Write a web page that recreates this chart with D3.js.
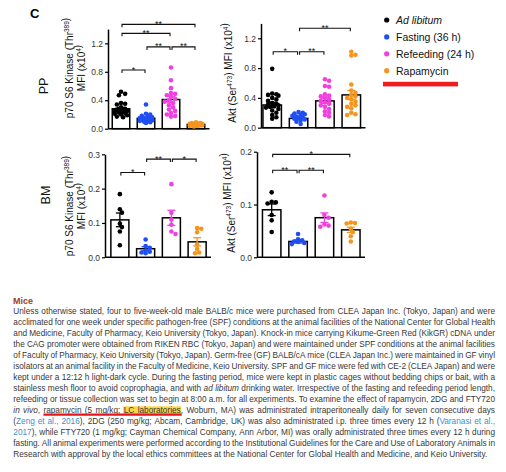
<!DOCTYPE html>
<html>
<head>
<meta charset="utf-8">
<script src="https://cdn.jsdelivr.net/npm/d3@7"></script>
<style>
body { margin: 0; background: #fff; }
svg { display: block; }
</style>
</head>
<body>
<script>
// -- groups --
var groups = ["Ad libitum", "Fasting (36 h)", "Refeeding (24 h)", "Rapamycin"];
var groupColors = ["#000000", "#1f4ef2", "#f240e0", "#f7941d"];

// -- PP, p70 S6 Kinase (Thr389) --
var ppS6Mean = [0.28, 0.145, 0.41, 0.06];
var ppS6Sem = [0.02, 0.015, 0.045, 0.004];
var ppS6Dots = [
    [0.52, 0.49, 0.47, 0.36, 0.35, 0.34, 0.30, 0.28, 0.27, 0.26, 0.25, 0.25, 0.24, 0.23, 0.22, 0.21, 0.20, 0.19, 0.17, 0.16],
    [0.34, 0.21, 0.20, 0.18, 0.17, 0.16, 0.15, 0.15, 0.14, 0.14, 0.13, 0.12, 0.12, 0.11, 0.10, 0.09, 0.08],
    [0.86, 0.68, 0.57, 0.50, 0.49, 0.47, 0.45, 0.42, 0.40, 0.38, 0.36, 0.33, 0.30, 0.27, 0.25, 0.22, 0.20, 0.18, 0.17],
    [0.09, 0.08, 0.08, 0.07, 0.07, 0.06, 0.06, 0.06, 0.05, 0.05, 0.05, 0.04, 0.04, 0.04, 0.03]
];
var ppS6Sig = [[0, 1, 0.825, "*"], [1, 2, 1.15, "**"], [2, 3, 1.15, "**"], [0, 2, 1.34, "**"], [0, 3, 1.467, "**"]];

// -- PP, Akt (Ser473) --
var ppAktMean = [0.305, 0.125, 0.36, 0.44];
var ppAktSem = [0.035, 0.012, 0.035, 0.06];
var ppAktDots = [
    [0.79, 0.46, 0.45, 0.44, 0.43, 0.40, 0.38, 0.36, 0.33, 0.32, 0.31, 0.30, 0.29, 0.28, 0.27, 0.25, 0.23, 0.20, 0.17, 0.14, 0.12],
    [0.21, 0.20, 0.19, 0.18, 0.17, 0.16, 0.15, 0.14, 0.13, 0.12, 0.11, 0.10, 0.08, 0.05],
    [0.65, 0.63, 0.56, 0.55, 0.45, 0.43, 0.42, 0.40, 0.38, 0.36, 0.34, 0.32, 0.30, 0.28, 0.25, 0.22, 0.20, 0.17, 0.15],
    [1.02, 0.98, 0.97, 0.58, 0.50, 0.47, 0.44, 0.42, 0.40, 0.38, 0.35, 0.32, 0.30, 0.28, 0.26, 0.20, 0.18, 0.17]
];
var ppAktSig = [[0, 1, 1.02, "*"], [1, 2, 1.02, "**"], [1, 3, 1.334, "**"]];

// -- BM, p70 S6 Kinase (Thr389) --
var bmS6Mean = [0.109, 0.025, 0.115, 0.045];
var bmS6Sem = [0.02, 0.006, 0.022, 0.012];
var bmS6Dots = [
    [0.184, 0.14, 0.13, 0.098, 0.088, 0.075, 0.035],
    [0.052, 0.033, 0.028, 0.02, 0.016, 0.014, 0.012],
    [0.213, 0.13, 0.11, 0.095, 0.075, 0.068],
    [0.085, 0.083, 0.073, 0.037, 0.024, 0.014, 0.012]
];
var bmS6Sig = [[0, 1, 0.247, "*"], [1, 2, 0.286, "**"], [2, 3, 0.286, "*"]];

// -- BM, Akt (Ser473) --
var bmAktMean = [0.09, 0.03, 0.075, 0.052];
var bmAktSem = [0.011, 0.003, 0.009, 0.005];
var bmAktDots = [
    [0.123, 0.105, 0.104, 0.102, 0.08, 0.07, 0.048],
    [0.044, 0.034, 0.032, 0.03, 0.029, 0.027, 0.025],
    [0.117, 0.08, 0.075, 0.062, 0.06, 0.058],
    [0.066, 0.065, 0.064, 0.054, 0.048, 0.04, 0.03]
];
var bmAktSig = [[0, 1, 0.165, "**"], [1, 2, 0.165, "**"], [0, 3, 0.195, "*"]];

var ticksPP = [0, 0.4, 0.8, 1.2];
var ticksBmS6 = [0, 0.1, 0.2, 0.3];
var ticksBmAkt = [0, 0.1, 0.2];

// -- Methods text (_italic_, {link}, [highlight], ~underline~) --
var bodyLines = [
    "Unless otherwise stated, four to five-week-old male BALB/c mice were purchased from CLEA Japan Inc. (Tokyo, Japan) and were",
    "acclimated for one week under specific pathogen-free (SPF) conditions at the animal facilities of the National Center for Global Health",
    "and Medicine, Faculty of Pharmacy, Keio University (Tokyo, Japan). Knock-in mice carrying Kikume-Green Red (KikGR) cDNA under",
    "the CAG promoter were obtained from RIKEN RBC (Tokyo, Japan) and were maintained under SPF conditions at the animal facilities",
    "of Faculty of Pharmacy, Keio University (Tokyo, Japan). Germ-free (GF) BALB/cA mice (CLEA Japan Inc.) were maintained in GF vinyl",
    "isolators at an animal facility in the Faculty of Medicine, Keio University. SPF and GF mice were fed with CE-2 (CLEA Japan) and were",
    "kept under a 12:12 h light-dark cycle. During the fasting period, mice were kept in plastic cages without bedding chips or bait, with a",
    "stainless mesh floor to avoid coprophagia, and with _ad libitum_ drinking water. Irrespective of the fasting and refeeding period length,",
    "refeeding or tissue collection was set to begin at 8:00 a.m. for all experiments. To examine the effect of rapamycin, 2DG and FTY720",
    "_in vivo_, ~rapamycin (5 mg/kg; [LC laboratories]~, Woburn, MA) was administrated intraperitoneally daily for seven consecutive days",
    "({Zeng et al., 2016}), 2DG (250 mg/kg; Abcam, Cambridge, UK) was also administrated i.p. three times every 12 h ({Varanasi et al.,}",
    "{2017}), while FTY720 (1 mg/kg; Cayman Chemical Company, Ann Arbor, MI) was orally administrated three times every 12 h during",
    "fasting. All animal experiments were performed according to the Institutional Guidelines for the Care and Use of Laboratory Animals in",
    "Research with approval by the local ethics committees at the National Center for Global Health and Medicine, and Keio University."
];

var FONT = "'Liberation Sans', Arial, Helvetica, sans-serif";
var width = 506, height = 472;

var svg = d3.select("body").append("svg")
    .attr("width", width)
    .attr("height", height)
    .style("font-family", FONT);

// panel label
svg.append("text").attr("x", 30).attr("y", 18)
    .attr("font-size", 13).attr("font-weight", "bold").text("C");

// row labels
[["PP", 47.5, 86], ["BM", 50, 195]].forEach(function(r) {
    svg.append("text")
        .attr("transform", "translate(" + r[1] + "," + r[2] + ") rotate(-90)")
        .attr("text-anchor", "middle").attr("font-size", 12.5).attr("fill", "#111")
        .text(r[0]);
});

// -- axis titles with superscripts --
function rotTitle(x, y, parts) {
    var t = svg.append("text")
        .attr("transform", "translate(" + x + "," + y + ") rotate(-90)")
        .attr("text-anchor", "middle").attr("font-size", 10).attr("fill", "#111");
    parts.forEach(function(p) {
        if (p.sup) {
            t.append("tspan").attr("dy", -4).attr("font-size", 6.5).text(p.sup);
            t.append("tspan").attr("dy", 4).text("");
        } else {
            t.append("tspan").text(p.t);
        }
    });
}
function s6Title(x, y) {
    rotTitle(x, y, [{t: "p70 S6 Kinase (Thr"}, {sup: "389"}, {t: ")"}]);
    rotTitle(x + 12, y, [{t: "MFI (x10"}, {sup: "4"}, {t: ")"}]);
}
function aktTitle(x, y) {
    rotTitle(x, y, [{t: "Akt (Ser"}, {sup: "473"}, {t: ") MFI (x10"}, {sup: "4"}, {t: ")"}]);
}
s6Title(73, 68);
s6Title(73, 206);
aktTitle(236, 73);
aktTitle(235, 203);

// -- simple beeswarm so points do not sit on each other --
function swarm(vals, y, r, maxOff) {
    var placed = [];
    var pts = vals.map(function(v) { return {v: v, py: y(v)}; })
        .sort(function(a, b) { return a.py - b.py; });
    pts.forEach(function(p) {
        var best = 0, bestOv = Infinity;
        for (var k = 0; k <= 14 && bestOv > 0; k++) {
            var cands = k === 0 ? [0] : [k, -k];
            for (var c = 0; c < cands.length; c++) {
                var off = cands[c] * r * 0.9;
                if (Math.abs(off) > maxOff) continue;
                var ov = 0;
                placed.forEach(function(q) {
                    var d = Math.hypot(q.dx - off, q.py - p.py);
                    ov = Math.max(ov, 2 * r * 0.8 - d);
                });
                if (ov < bestOv) { bestOv = ov; best = off; }
                if (ov <= 0) break;
            }
        }
        p.dx = best;
        placed.push(p);
    });
    return placed;
}

function drawPanel(p) {
    var g = svg.append("g");
    var x = d3.scaleBand().domain(d3.range(groups.length))
        .range(p.band).paddingInner(0.3).paddingOuter(0.15);
    var y = d3.scaleLinear().domain([0, p.max]).range(p.yr);
    var bw = x.bandwidth();

    var ax = g.append("g")
        .attr("transform", "translate(" + p.ax + ",0)")
        .call(d3.axisLeft(y).tickValues(p.ticks).tickSize(3).tickSizeOuter(0)
            .tickPadding(2).tickFormat(d3.format(".1f")));
    ax.select(".domain").attr("stroke", "#000").attr("stroke-width", 1.5);
    ax.selectAll(".tick line").attr("stroke", "#000").attr("stroke-width", 1.2);
    ax.selectAll(".tick text").attr("font-size", 8.5).attr("fill", "#333")
        .attr("font-family", FONT);

    g.append("line")
        .attr("x1", p.ax).attr("x2", p.band[1] + 1)
        .attr("y1", y(0)).attr("y2", y(0))
        .attr("stroke", "#000").attr("stroke-width", 1.5);

    // bars
    g.selectAll("rect.bar").data(p.mean).enter().append("rect")
        .attr("x", function(d, i) { return x(i); })
        .attr("y", function(d) { return y(d); })
        .attr("width", bw)
        .attr("height", function(d) { return y(0) - y(d); })
        .attr("fill", "#fff").attr("stroke", "#000").attr("stroke-width", 1.5);

    // dots
    p.dots.forEach(function(vals, i) {
        var cx = x(i) + bw / 2;
        var pts = swarm(vals, y, 2.3, bw / 2 - 2);
        g.selectAll(null).data(pts).enter().append("circle")
            .attr("cx", function(d) { return cx + d.dx; })
            .attr("cy", function(d) { return d.py; })
            .attr("r", 2.3)
            .attr("fill", groupColors[i]);
    });

    // mean +/- sem
    p.mean.forEach(function(m, i) {
        var cx = x(i) + bw / 2, s = p.sem[i];
        var eg = g.append("g").attr("stroke", groupColors[i]).attr("stroke-width", 1.3);
        eg.append("line").attr("x1", cx).attr("x2", cx).attr("y1", y(m - s)).attr("y2", y(m + s));
        eg.append("line").attr("x1", cx - 4).attr("x2", cx + 4).attr("y1", y(m + s)).attr("y2", y(m + s));
        eg.append("line").attr("x1", cx - 4).attr("x2", cx + 4).attr("y1", y(m - s)).attr("y2", y(m - s));
    });

    // significance brackets
    p.sig.forEach(function(s) {
        var x1 = x(s[0]) + bw / 2 + 1, x2 = x(s[1]) + bw / 2 - 1, yy = y(s[2]);
        g.append("path")
            .attr("d", "M" + x1 + "," + (yy + 3) + "V" + yy + "H" + x2 + "V" + (yy + 3))
            .attr("fill", "none").attr("stroke", "#111").attr("stroke-width", 1.1);
        g.append("text")
            .attr("x", (x1 + x2) / 2).attr("y", yy + 2.5)
            .attr("text-anchor", "middle").attr("font-size", 9).attr("fill", "#111")
            .text(s[3]);
    });
}

drawPanel({mean: ppS6Mean, sem: ppS6Sem, dots: ppS6Dots, sig: ppS6Sig, ticks: ticksPP,
    max: 1.4, ax: 108, band: [108.5, 208.5], yr: [128.7, 29.1]});
drawPanel({mean: ppAktMean, sem: ppAktSem, dots: ppAktDots, sig: ppAktSig, ticks: ticksPP,
    max: 1.4, ax: 261, band: [259, 364.5], yr: [127.7, 23.4]});
drawPanel({mean: bmS6Mean, sem: bmS6Sem, dots: bmS6Dots, sig: bmS6Sig, ticks: ticksBmS6,
    max: 0.3, ax: 105, band: [107, 210], yr: [257.3, 154.3]});
drawPanel({mean: bmAktMean, sem: bmAktSem, dots: bmAktDots, sig: bmAktSig, ticks: ticksBmAkt,
    max: 0.2, ax: 257, band: [258.5, 364], yr: [257.3, 151.7]});

// -- legend --
var legend = svg.append("g");
groups.forEach(function(name, i) {
    var yy = 20 + i * 16.9;
    legend.append("circle").attr("cx", 386.7).attr("cy", yy).attr("r", 2.6)
        .attr("fill", groupColors[i]);
    legend.append("text").attr("x", 396).attr("y", yy + 3.8)
        .attr("font-size", 10.5).attr("fill", "#111")
        .attr("font-style", i === 0 ? "italic" : null)
        .text(name);
});
legend.append("rect").attr("x", 383).attr("y", 81.8).attr("width", 75).attr("height", 4.6)
    .attr("fill", "#f01c1c");

// -- methods text --
svg.append("text").attr("x", 13).attr("y", 303.5)
    .attr("font-size", 9).attr("font-weight", "bold").attr("fill", "#a23b1f")
    .text("Mice");

var meas = svg.append("text").attr("x", -1000).attr("y", -1000).style("white-space", "pre");
function textWidth(str, fs, italic) {
    meas.attr("font-size", fs).attr("font-style", italic ? "italic" : "normal").text(str);
    return meas.node().getComputedTextLength();
}

function parseLine(str) {
    var words = [], cur = [], seg = null;
    var st = {i: false, l: false, h: false, u: false};
    for (var k = 0; k < str.length; k++) {
        var c = str[k];
        if (c === "_") { st.i = !st.i; seg = null; }
        else if (c === "{") { st.l = true; seg = null; }
        else if (c === "}") { st.l = false; seg = null; }
        else if (c === "[") { st.h = true; seg = null; }
        else if (c === "]") { st.h = false; seg = null; }
        else if (c === "~") { st.u = !st.u; seg = null; }
        else if (c === " ") { if (cur.length) words.push(cur); cur = []; seg = null; }
        else {
            if (!seg) {
                seg = {t: "", i: st.i, l: st.l, h: st.h, u: st.u};
                cur.push(seg);
            }
            seg.t += c;
        }
    }
    if (cur.length) words.push(cur);
    return words;
}

var textLeft = 13.3, textRight = 495, lastWidth = 475, minGap = 1.2;
var parsed = bodyLines.map(parseLine);
var plain = parsed.map(function(ws) {
    return ws.map(function(w) { return w.map(function(s) { return s.t; }).join(""); }).join(" ");
});
// font size from the last (ragged) line
var fs = 10 * lastWidth / textWidth(plain[plain.length - 1], 10, false);

var hlLayer = svg.append("g");
var txLayer = svg.append("g").attr("font-size", fs);
var ulLayer = svg.append("g");
var spaceW = textWidth("a a", fs) - textWidth("aa", fs);

parsed.forEach(function(words, li) {
    var base = 313.8 + li * 11.03;
    words.forEach(function(w) {
        w.forEach(function(s) { s.w = textWidth(s.t, fs, s.i); });
        w.w = d3.sum(w, function(s) { return s.w; });
    });
    var total = d3.sum(words, function(w) { return w.w; });
    var last = li === parsed.length - 1;
    // squeeze glyphs slightly on lines that would not fit with tight spaces
    var avail = textRight - textLeft - (words.length - 1) * minGap;
    var k = last ? 1 : Math.min(1, avail / total);
    var gap = last ? spaceW : (textRight - textLeft - total * k) / (words.length - 1);
    var xx = textLeft, segs = [];
    words.forEach(function(w) {
        var sx = xx;
        w.forEach(function(s) {
            var t = txLayer.append("text").attr("x", sx).attr("y", base)
                .attr("fill", s.l ? "#3b8fd0" : "#383838")
                .attr("font-style", s.i ? "italic" : null)
                .text(s.t);
            if (k < 1) t.attr("textLength", s.w * k).attr("lengthAdjust", "spacingAndGlyphs");
            segs.push({x0: sx, x1: sx + s.w * k, h: s.h, u: s.u});
            sx += s.w * k;
        });
        xx += w.w * k + gap;
    });
    // merge runs of flagged segments
    ["h", "u"].forEach(function(f) {
        var run = null;
        segs.concat([{}]).forEach(function(s) {
            if (s[f]) {
                if (!run) run = {x0: s.x0, x1: s.x1};
                else run.x1 = s.x1;
            } else if (run) {
                if (f === "h") {
                    hlLayer.append("rect").attr("x", run.x0 - 0.5).attr("y", base - fs * 0.82)
                        .attr("width", run.x1 - run.x0 + 1).attr("height", fs * 1.02)
                        .attr("fill", "#f8d648");
                } else {
                    ulLayer.append("line").attr("x1", run.x0).attr("x2", run.x1 + 1)
                        .attr("y1", base + 1.6).attr("y2", base + 1.6)
                        .attr("stroke", "#e8141c").attr("stroke-width", 2.3);
                }
                run = null;
            }
        });
    });
});
meas.remove();
</script>
</body>
</html>
